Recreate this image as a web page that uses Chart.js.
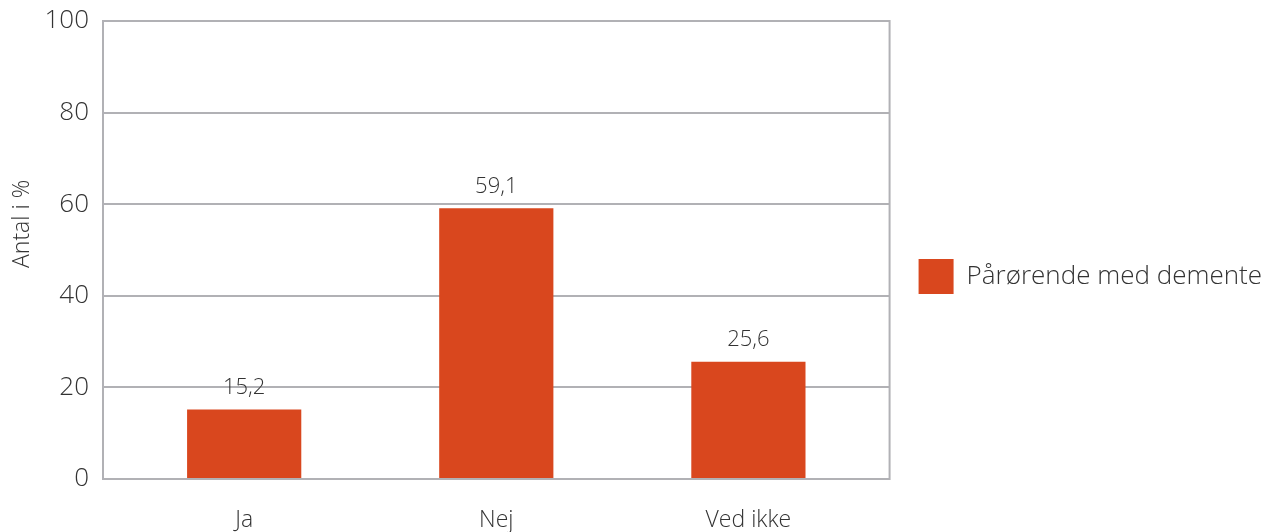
<!DOCTYPE html>
<html>
<head>
<meta charset="utf-8">
<script src="https://cdn.jsdelivr.net/npm/chart.js@4.4.1/dist/chart.umd.min.js"></script>
<style>
  html, body { margin: 0; padding: 0; background: #fff; }
  #wrap { width: 1283px; height: 532px; }
</style>
</head>
<body>
<div id="wrap"><canvas id="chart" width="1283" height="532"></canvas></div>
<script>
const categories = ["Ja", "Nej", "Ved ikke"];
const values = [15.2, 59.1, 25.6];
const seriesName = "Pårørende med demente";
const yTicks = [0, 20, 40, 60, 80, 100];
const yTitle = "Antal i %";

const FONT = "'Open Sans', sans-serif";
const TEXT = "#333333";
const GRID = "#b1b1b5";
const BAR = "#d9471e";

// frame round the plot area + rotated y title (sits a bit above centre in the original)
const framePlugin = {
    id: "frame",
    beforeDatasetsDraw(chart) {
        const {ctx, chartArea: a} = chart;
        ctx.save();
        ctx.strokeStyle = GRID;
        ctx.lineWidth = 2;
        ctx.strokeRect(a.left, a.top, a.right - a.left, a.bottom - a.top);

        ctx.translate(22, a.top + (a.bottom - a.top) * 0.443);
        ctx.rotate(-Math.PI / 2);
        ctx.fillStyle = TEXT;
        ctx.font = "300 23px " + FONT;
        ctx.textAlign = "center";
        ctx.textBaseline = "middle";
        ctx.fillText(yTitle, 0, 0);
        ctx.restore();
    }
};

// value labels over the bars
const valueLabels = {
    id: "valueLabels",
    afterDatasetsDraw(chart) {
        const ctx = chart.ctx;
        const meta = chart.getDatasetMeta(0);
        ctx.save();
        ctx.fillStyle = TEXT;
        ctx.font = "300 22px " + FONT;
        ctx.textAlign = "center";
        ctx.textBaseline = "middle";
        meta.data.forEach((bar, i) => {
            const v = chart.data.datasets[0].data[i].y;
            ctx.fillText(v.toFixed(1).replace(".", ","), bar.x, bar.y - 22);
        });
        ctx.restore();
    }
};

const ctx = document.getElementById("chart").getContext("2d");
new Chart(ctx, {
    type: "bar",
    data: {
        datasets: [{
            label: seriesName,
            data: values.map((v, i) => ({x: i, y: v})),
            backgroundColor: BAR,
            barPercentage: 0.453,
            categoryPercentage: 1,
        }],
    },
    options: {
        responsive: false,
        animation: false,
        layout: {padding: {left: 0, top: 21, right: 11, bottom: 0}},
        plugins: {
            tooltip: {enabled: false},
            legend: {
                position: "right",
                maxWidth: 394,
                labels: {
                    boxWidth: 35,
                    boxHeight: 35,
                    padding: 29,
                    color: TEXT,
                    font: {family: FONT, size: 26, weight: "300"},
                },
            },
        },
        scales: {
            x: {
                type: "linear",
                offset: false,
                min: -0.56,
                max: 2.56,
                grid: {display: false},
                border: {display: false},
                afterBuildTicks(scale) {
                    scale.ticks = categories.map((c, i) => ({value: i}));
                },
                afterFit(scale) {
                    scale.height = 53;
                    scale.paddingLeft = 0;
                    scale.paddingRight = 0;
                },
                ticks: {
                    padding: 20,
                    color: TEXT,
                    font: {family: FONT, size: 23, weight: "300"},
                    callback: (v) => categories[v] ?? "",
                },
            },
            y: {
                min: 0,
                max: 100,
                afterBuildTicks(scale) {
                    scale.ticks = yTicks.map(v => ({value: v}));
                },
                afterFit(scale) {
                    scale.width = 103;
                    scale.paddingTop = 0;
                    scale.paddingBottom = 0;
                },
                grid: {color: GRID, lineWidth: 2, drawTicks: false},
                border: {display: false},
                ticks: {
                    padding: 14,
                    color: TEXT,
                    font: {family: FONT, size: 26, weight: "300"},
                },
            },
        },
    },
    plugins: [framePlugin, valueLabels],
});
</script>
</body>
</html>
